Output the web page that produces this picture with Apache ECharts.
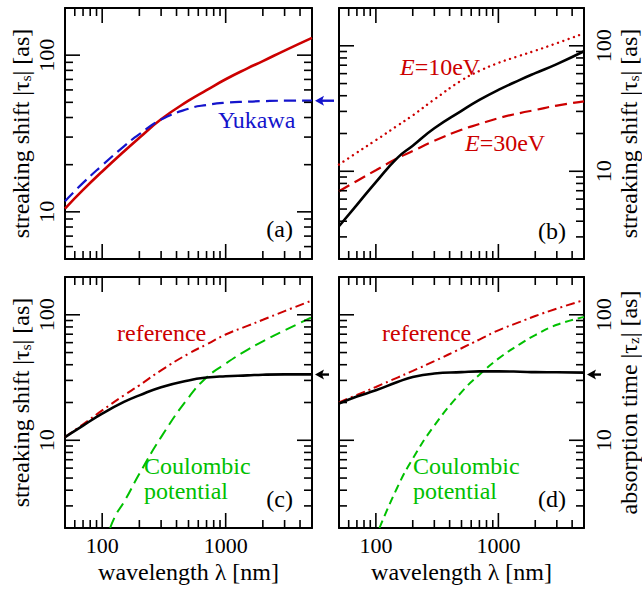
<!DOCTYPE html>
<html><head><meta charset="utf-8">
<script src="https://cdn.jsdelivr.net/npm/echarts@6/dist/echarts.min.js"></script>
<style>html,body{margin:0;padding:0;background:#fff}#c{width:642px;height:590px}</style>
</head><body><div id="c"></div>
<script>
// ---- data ----
const lambda = [50, 70, 100, 150, 200, 300, 500, 700, 1000, 1500, 2000, 3000, 5000];
// panel (a)
const aReference = [10.5, 13.8, 18.1, 24.3, 29.7, 39.0, 51.2, 59.8, 70.2, 82.4, 91.6, 107, 129];
const aYukawa = [11.7, 15.3, 19.8, 26.2, 31.3, 38.8, 45.5, 48.1, 49.7, 50.5, 50.9, 51.2, 51.2];
const aYukawaLimit = 51.2;
// panel (b)
const bFull = [3.65, 5.4, 8.2, 12.8, 16.0, 22.0, 30.3, 37.0, 44.5, 53.5, 60.5, 71.5, 90.5];
const bE10 = [11.3, 14.1, 17.7, 23.1, 27.9, 37.4, 53.0, 63.0, 73.0, 83.4, 91.4, 104.8, 125.6];
const bE30 = [6.93, 8.37, 10.2, 12.7, 14.5, 17.5, 21.4, 23.8, 26.5, 29.1, 30.8, 33.4, 36.1];
// panel (c)
const cStreak = [10.6, 13.1, 16.3, 20.2, 22.8, 26.5, 30.0, 31.6, 32.4, 32.9, 33.3, 33.5, 33.5];
const cReference = [10.6, 13.4, 17.3, 22.8, 27.4, 36.1, 49.0, 58.0, 69.6, 81.6, 91.2, 107, 130];
const cCoulombLambda = [116, 130, 150, 200, 300, 500, 700, 1000, 1500, 2000, 3000, 5000];
const cCoulomb = [2.0, 2.58, 3.21, 5.4, 10.6, 21.9, 31.6, 40.8, 52.6, 61.4, 75, 95.7];
const cLimit = 33.4;
// panel (d)
const dAbsorption = [19.6, 22.3, 25.0, 29.1, 31.9, 34.0, 34.9, 35.4, 35.4, 35.2, 34.9, 34.8, 34.6];
const dReference = [20.0, 23.0, 26.6, 31.6, 35.7, 42.7, 54.1, 63.5, 75.2, 87.7, 97.7, 112, 131];
const dCoulombLambda = [107, 150, 200, 300, 500, 700, 1000, 1500, 2000, 3000, 5000];
const dCoulomb = [2.0, 4.23, 7.14, 13.1, 24.2, 33.3, 44.7, 58.4, 68.9, 83.2, 96];
const dLimit = 33.4;
// ticks
const xMajor = [100, 1000];
const xMinor = [60, 70, 80, 90, 200, 300, 400, 500, 600, 700, 800, 900, 2000, 3000, 4000];
const yMajor = [10, 100];
const yMinor = [3, 4, 5, 6, 7, 8, 9, 20, 30, 40, 50, 60, 70, 80, 90];
const tickLabels = ['10', '100', '1000'];

// ---- styling ----
const FONT = 'Liberation Serif';
const RED = '#cc0000', BLUE = '#1414cc', GREEN = '#00c000', BLACK = '#000';
const X_MIN = 50, X_MAX = 5000, Y_MAX = 200;
const yMins = [5, 2, 2, 2];
const grids = [
  {left: 65, top: 8, width: 247, height: 251},
  {left: 339, top: 8, width: 247, height: 251},
  {left: 65, top: 277, width: 247, height: 251},
  {left: 339, top: 277, width: 247, height: 251}
];

function fmt(v) {
  const r = Math.round(v);
  const s = String(r);
  return (tickLabels.indexOf(s) >= 0 && Math.abs(v - r) < 1e-6 * r) ? s : '';
}
const axisLine = {show: true, onZero: false, lineStyle: {color: BLACK, width: 2}};
const richName = {
  t: {fontFamily: FONT, fontSize: 24, color: BLACK},
  s: {fontFamily: FONT, fontSize: 15, color: BLACK, verticalAlign: 'bottom', lineHeight: 10}
};

const xAxes = [], yAxes = [];
for (let i = 0; i < 4; i++) {
  const bottomLabels = i >= 2;
  xAxes.push({
    type: 'log', logBase: 10, gridIndex: i, position: 'bottom', min: X_MIN, max: X_MAX,
    axisLine, axisTick: {show: false}, splitLine: {show: false}, minorTick: {show: false},
    axisLabel: {show: bottomLabels, formatter: fmt, fontFamily: FONT, fontSize: 22, color: BLACK, margin: 6,
      showMinLabel: false, showMaxLabel: false},
    name: bottomLabels ? 'wavelength λ [nm]' : '', nameLocation: 'middle', nameGap: 32,
    nameTextStyle: {fontFamily: FONT, fontSize: 24, color: BLACK}
  });
  xAxes.push({
    type: 'log', logBase: 10, gridIndex: i, position: 'top', min: X_MIN, max: X_MAX,
    axisLine, axisTick: {show: false}, splitLine: {show: false}, axisLabel: {show: false}
  });
  const leftSide = (i % 2 === 0);
  const nm = (i === 3) ? '{t|absorption time |τ}{s|z}{t|| [as]}' : '{t|streaking shift |τ}{s|s}{t|| [as]}';
  const labelled = {
    type: 'log', logBase: 10, gridIndex: i, position: leftSide ? 'left' : 'right', min: yMins[i], max: Y_MAX,
    axisLine, axisTick: {show: false}, splitLine: {show: false},
    axisLabel: {show: true, rotate: 90, formatter: fmt, fontFamily: FONT, fontSize: 22, color: BLACK, margin: 8,
      showMinLabel: false, showMaxLabel: false},
    name: nm, nameLocation: 'middle', nameRotate: 90, nameGap: leftSide ? 32 : 33,
    nameTextStyle: {fontFamily: FONT, fontSize: 24, color: BLACK, rich: richName}
  };
  const plain = {
    type: 'log', logBase: 10, gridIndex: i, position: leftSide ? 'right' : 'left', min: yMins[i], max: Y_MAX,
    axisLine, axisTick: {show: false}, splitLine: {show: false}, axisLabel: {show: false}
  };
  if (leftSide) { yAxes.push(labelled, plain); } else { yAxes.push(plain, labelled); }
}

function pairs(xs, ys) { return xs.map((x, k) => [x, ys[k]]); }
function curve(i, xs, ys, color, width, dash, cap) {
  return {
    type: 'line', xAxisIndex: 2 * i, yAxisIndex: 2 * i, data: pairs(xs, ys),
    symbol: 'none', showSymbol: false, smooth: 0.5, clip: true, z: 3,
    lineStyle: {color, width, type: dash, cap: cap || 'butt'}, silent: true
  };
}
function ticks(i) {
  const yMin = yMins[i];
  return {
    type: 'custom', xAxisIndex: 2 * i, yAxisIndex: 2 * i, clip: false, silent: true, z: 6,
    data: [[100, 10]],
    renderItem: function (params, api) {
      const cs = params.coordSys;
      const x0 = cs.x, y0 = cs.y, x1 = cs.x + cs.width, y1 = cs.y + cs.height;
      const ch = [];
      const add = (a, b, c, d) => ch.push({type: 'line', shape: {x1: a, y1: b, x2: c, y2: d},
        style: {stroke: BLACK, lineWidth: 1.6}});
      xMajor.concat(xMinor).forEach(v => {
        const L = xMajor.indexOf(v) >= 0 ? 15 : 8;
        const px = api.coord([v, 10])[0];
        add(px, y1, px, y1 - L); add(px, y0, px, y0 + L);
      });
      yMajor.concat(yMinor).filter(v => v > yMin && v < Y_MAX).forEach(v => {
        const L = yMajor.indexOf(v) >= 0 ? 15 : 8;
        const py = api.coord([100, v])[1];
        add(x0, py, x0 + L, py); add(x1, py, x1 - L, py);
      });
      return {type: 'group', children: ch};
    }
  };
}
function arrow(i, value, color, tail) {
  return {
    type: 'custom', xAxisIndex: 2 * i, yAxisIndex: 2 * i, clip: false, silent: true, z: 6,
    data: [[X_MAX, value]],
    renderItem: function (params, api) {
      const p = api.coord([api.value(0), api.value(1)]);
      const tip = p[0] + 3;
      return {type: 'group', children: [
        {type: 'line', shape: {x1: tip + 6, y1: p[1], x2: p[0] + tail, y2: p[1]}, style: {stroke: color, lineWidth: 2.4}},
        {type: 'polygon', shape: {points: [[tip, p[1]], [tip + 9, p[1] - 5], [tip + 7, p[1]], [tip + 9, p[1] + 5]]},
          style: {fill: color}}
      ]};
    }
  };
}

const series = [
  curve(0, lambda, aReference, RED, 2.6, 'solid'),
  curve(0, lambda, aYukawa, BLUE, 2.2, [12, 6]),
  curve(1, lambda, bE10, RED, 2.4, [0.01, 5.6], 'round'),
  curve(1, lambda, bE30, RED, 2.2, [12, 6]),
  curve(1, lambda, bFull, BLACK, 2.6, 'solid'),
  curve(2, lambda, cReference, RED, 2, [9, 4, 2, 4]),
  curve(2, cCoulombLambda, cCoulomb, GREEN, 2, [11, 6]),
  curve(2, lambda, cStreak, BLACK, 2.6, 'solid'),
  curve(3, lambda, dReference, RED, 2, [9, 4, 2, 4]),
  curve(3, dCoulombLambda, dCoulomb, GREEN, 2, [8, 5]),
  curve(3, lambda, dAbsorption, BLACK, 2.6, 'solid'),
  ticks(0), ticks(1), ticks(2), ticks(3),
  arrow(0, aYukawaLimit, BLUE, 22),
  arrow(2, cLimit, BLACK, 17),
  arrow(3, dLimit, BLACK, 17)
];

function txt(x, y, text, color, align, rich) {
  return {type: 'text', x, y, silent: true, z: 10, style: {text, fill: color, font: '24px "' + FONT + '"',
    fontFamily: FONT, fontSize: 24, align: align || 'left', verticalAlign: 'middle', lineHeight: 25, rich: rich || {}}};
}
const italic = {i: {fontStyle: 'italic', fontFamily: FONT, fontSize: 24, fill: RED, color: RED}};
const graphic = [
  txt(218, 120, 'Yukawa', BLUE),
  txt(400, 67, '{i|E}=10eV', RED, 'left', italic),
  txt(465, 143, '{i|E}=30eV', RED, 'left', italic),
  txt(117, 333, 'reference', RED),
  txt(144, 478, 'Coulombic\npotential', GREEN),
  txt(382, 333, 'reference', RED),
  txt(413, 478, 'Coulombic\npotential', GREEN),
  txt(293, 229, '(a)', BLACK, 'right'),
  txt(566, 231, '(b)', BLACK, 'right'),
  txt(293, 499, '(c)', BLACK, 'right'),
  txt(566, 499, '(d)', BLACK, 'right')
];

const chart = echarts.init(document.getElementById('c'), null, {renderer: 'svg', width: 642, height: 590});
chart.setOption({
  animation: false,
  backgroundColor: '#fff',
  textStyle: {fontFamily: FONT},
  grid: grids.map(g => Object.assign({containLabel: false}, g)),
  xAxis: xAxes,
  yAxis: yAxes,
  series,
  graphic
});
</script>
</body></html>
